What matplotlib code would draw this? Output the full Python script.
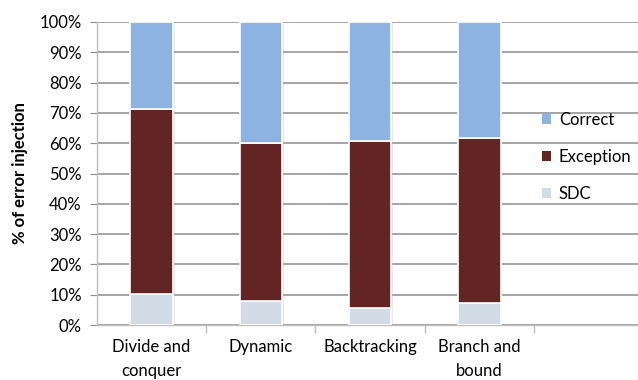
import matplotlib.pyplot as plt
import numpy as np

categories = ["Divide and\nconquer", "Dynamic", "Backtracking", "Branch and\nbound"]
sdc = [10.3, 8.0, 5.6, 7.3]
exception = [60.9, 52.0, 55.0, 54.5]
correct = [28.8, 40.0, 39.4, 38.2]

series = [
    ("SDC", sdc, "#d3dbe6"),
    ("Exception", exception, "#632523"),
    ("Correct", correct, "#8db3e2"),
]

plt.rcParams["font.family"] = ["Lato", "DejaVu Sans"]

fig = plt.figure(figsize=(6.38, 3.8), dpi=100)
ax = fig.add_axes([97 / 638, 1 - 325 / 380, 1 - 97 / 638, (325 - 22) / 380])

x = np.arange(len(categories))
bottom = np.zeros(len(categories))
handles = {}
for name, vals, color in series:
    vals = np.asarray(vals)
    # soft shadow behind each segment
    ax.bar(x + 0.012, vals, 0.40, bottom=bottom, color="#bfbfbf", alpha=0.35,
           linewidth=0, zorder=2)
    handles[name] = ax.bar(x, vals, 0.39, bottom=bottom, color=color,
                           edgecolor="white", linewidth=1.2, zorder=3)
    bottom += vals

ax.set_ylim(0, 100)
ax.set_xlim(-0.5, 4.454)
ax.set_yticks(np.arange(0, 101, 10))
ax.set_yticklabels([f"{v}%" for v in range(0, 101, 10)], fontsize=12)
ax.yaxis.grid(True, color="#8c8c8c", linewidth=1.1, zorder=0)
ax.set_axisbelow(True)

ax.set_xticks(x)
ax.set_xticklabels(categories, fontsize=12, linespacing=1.6)
ax.set_xticks(np.arange(0.5, 4.5, 1), minor=True)
ax.tick_params(axis="x", which="major", length=0, pad=10)
ax.tick_params(axis="x", which="minor", length=6, color="#bfbfbf", width=1)
ax.tick_params(axis="y", length=5, color="#8c8c8c", pad=6)

for side in ("top", "right"):
    ax.spines[side].set_visible(False)
for side in ("left", "bottom"):
    ax.spines[side].set_color("#bfbfbf")
    ax.spines[side].set_linewidth(1.0)

ax.set_ylabel("% of error injection", fontsize=12, fontweight="bold", labelpad=8)

leg = ax.legend([handles["Correct"], handles["Exception"], handles["SDC"]],
                ["Correct", "Exception", "SDC"],
                loc="center left", bbox_to_anchor=(0.795, 0.555), frameon=False,
                fontsize=12, handlelength=0.55, handleheight=0.55,
                handletextpad=0.45, labelspacing=1.25)
for h in leg.legend_handles:
    h.set_edgecolor("none")

fig.savefig("out.png", dpi=100)
